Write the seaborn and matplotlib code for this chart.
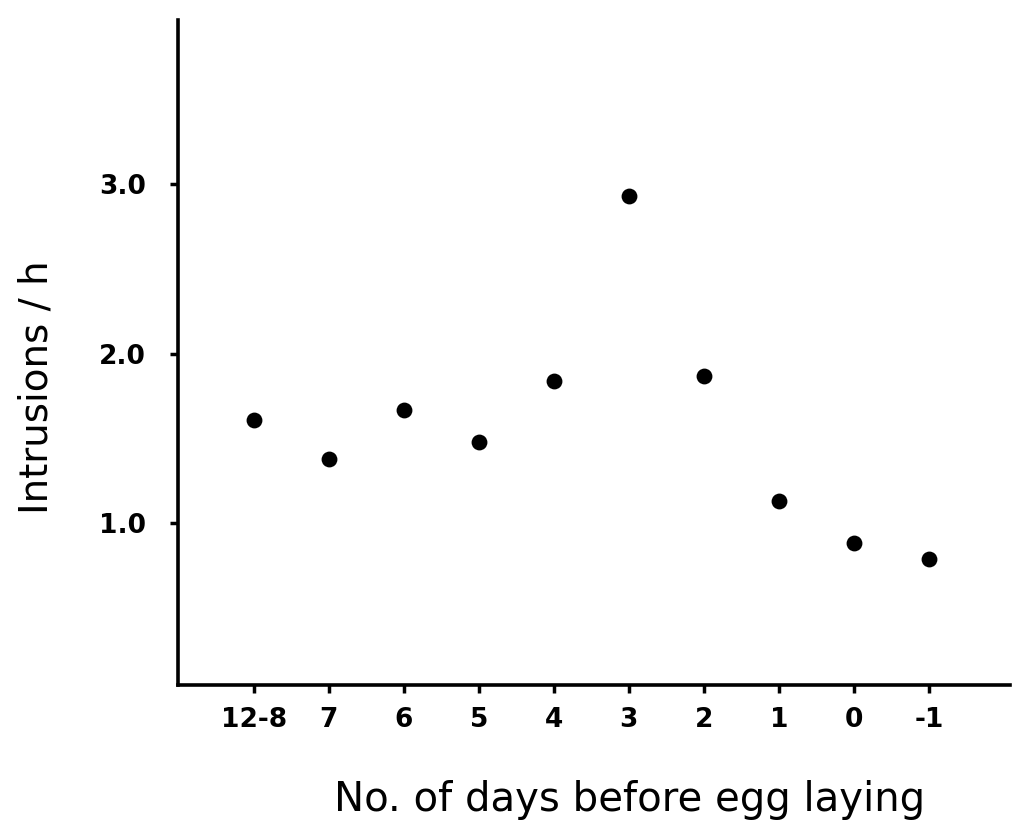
import matplotlib
matplotlib.use("Agg")
import matplotlib.pyplot as plt
import seaborn as sns
import pandas as pd

days = ["12-8", "7", "6", "5", "4", "3", "2", "1", "0", "-1"]
intrusions = [1.61, 1.38, 1.67, 1.48, 1.84, 2.93, 1.87, 1.13, 0.88, 0.79]
yticks = [1.0, 2.0, 3.0]

sns.set_style("ticks")
plt.rcParams["font.family"] = ["DejaVu Sans"]
plt.rcParams["text.color"] = "black"
plt.rcParams["axes.labelcolor"] = "black"
plt.rcParams["xtick.color"] = "black"
plt.rcParams["ytick.color"] = "black"

df = pd.DataFrame({"pos": range(len(days)), "rate": intrusions})

fig = plt.figure(figsize=(10.13, 8.26), dpi=100)
ax = fig.add_axes([0.1757, 0.1707, 0.8213, 0.8051])
sns.scatterplot(data=df, x="pos", y="rate", color="black", s=130,
                edgecolor="black", linewidth=0, ax=ax)

ax.set_xlim(-1.01, 10.08)
ax.set_ylim(0.044, 3.97)
ax.set_xticks(range(len(days)))
ax.set_xticklabels(days)
ax.set_yticks(yticks)
ax.set_yticklabels([f"{v:.1f}" for v in yticks])

for lab in ax.get_xticklabels() + ax.get_yticklabels():
    lab.set_fontsize(19)
    lab.set_fontweight("bold")

ax.tick_params(axis="both", length=6, width=2.5, direction="out")
ax.tick_params(axis="x", pad=10)
ax.tick_params(axis="y", pad=17)

for side in ["left", "bottom"]:
    ax.spines[side].set_linewidth(2.6)
    ax.spines[side].set_color("black")
sns.despine(ax=ax)

ax.set_xlabel("No. of days before egg laying", fontsize=29)
ax.set_ylabel("Intrusions / h", fontsize=28)
ax.xaxis.set_label_coords(0.543, -0.143)
ax.yaxis.set_label_coords(-0.147, 0.448)

fig.savefig("out.png", dpi=100, facecolor="white")
